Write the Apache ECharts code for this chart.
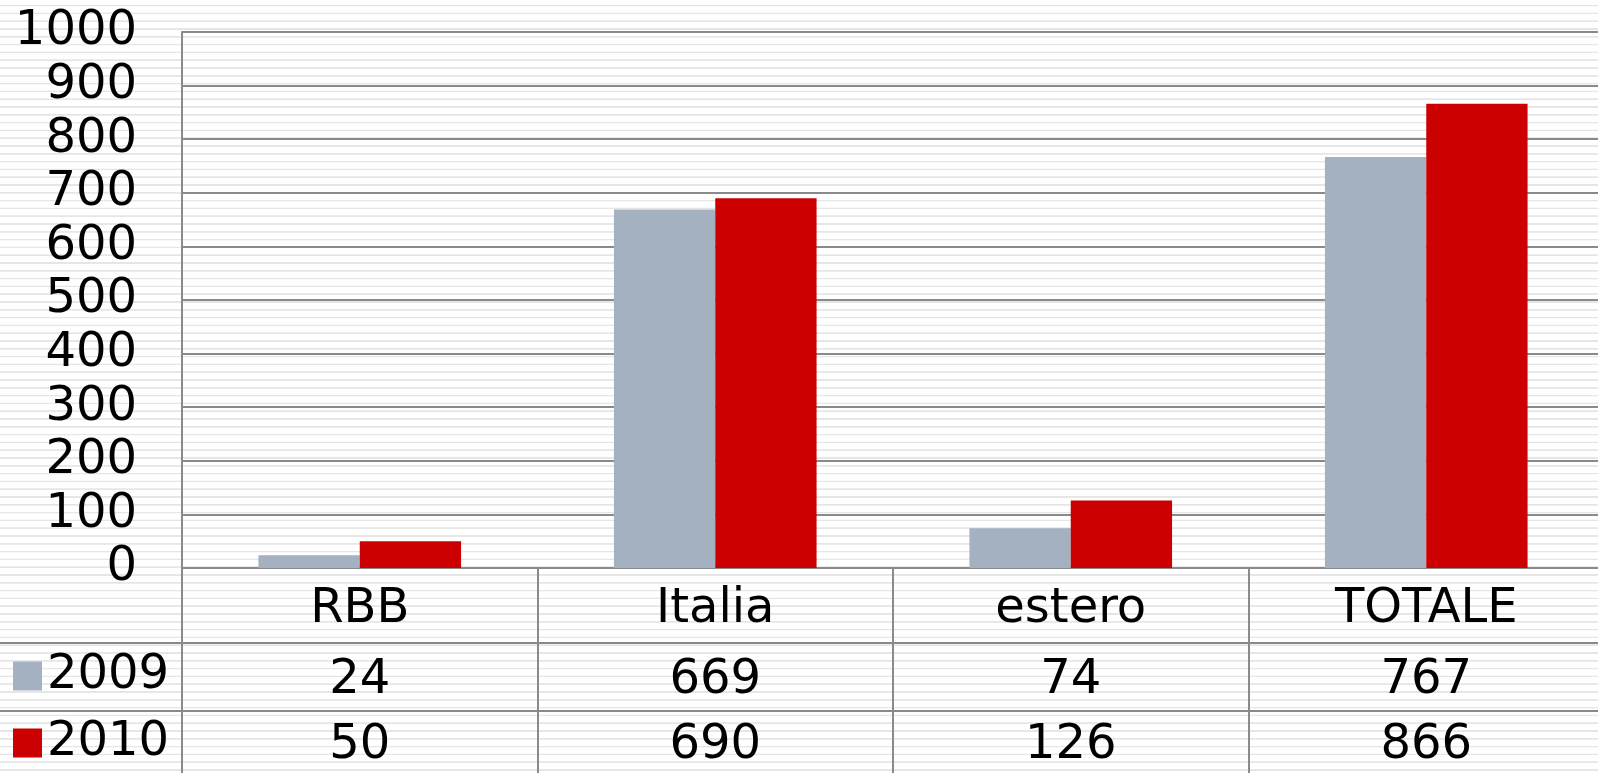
<!DOCTYPE html>
<html><head><meta charset="utf-8">
<script src="https://cdn.jsdelivr.net/npm/echarts@6/dist/echarts.min.js"></script>
<style>
html,body{margin:0;padding:0;background:#fff;}
#c{width:1598px;height:773px;background:repeating-linear-gradient(to bottom,#fff 0px,#fff 4.6px,#e6e6e6 5px,#e6e6e6 6.2px,#fff 6.6px,#fff 7.8px);}
</style></head><body><div id="c"></div>
<script>
const categories = ['RBB', 'Italia', 'estero', 'TOTALE'];
const seriesNames = ['2009', '2010'];
const values2009 = [24, 669, 74, 767];
const values2010 = [50, 690, 126, 866];
const yMin = 0, yMax = 1000, yInterval = 100;

const FONT = 'DejaVu Sans';
const LINE = '#8a8a8a';
const gridTop = 32, gridLeft = 182, W = 1598, H = 773;
const rowHeights = [75, 68, 62];
const tableH = rowHeights[0] + rowHeights[1] + rowHeights[2];
const plotBottom = H - tableH;

const chart = echarts.init(document.getElementById('c'), null, {renderer: 'canvas'});
chart.setOption({
  backgroundColor: 'transparent',
  animation: false,
  grid: {left: gridLeft, top: gridTop, width: 1422, bottom: tableH, containLabel: false, outerBoundsMode: 'none'},
  legend: {
    data: seriesNames, orient: 'vertical', left: 13, top: 652, padding: 0,
    itemWidth: 29, itemHeight: 29, itemGap: 19, icon: 'rect', selectedMode: false,
    textStyle: {fontSize: 48, fontFamily: FONT, color: '#000', lineHeight: 48}
  },
  xAxis: {
    type: 'category', data: categories,
    axisLine: {show: true, lineStyle: {color: LINE, width: 2}},
    axisTick: {show: true, length: tableH, alignWithLabel: false, lineStyle: {color: LINE, width: 2}},
    splitLine: {show: false},
    axisLabel: {
      interval: 0, margin: 4, color: '#000', fontFamily: FONT, fontSize: 48,
      formatter: function (v, i) {
        return '{a|' + v + '}\n{b|' + values2009[i] + '}\n{c|' + values2010[i] + '}';
      },
      rich: {
        a: {fontSize: 48, fontFamily: FONT, color: '#000', lineHeight: rowHeights[0]},
        b: {fontSize: 48, fontFamily: FONT, color: '#000', lineHeight: rowHeights[1]},
        c: {fontSize: 48, fontFamily: FONT, color: '#000', lineHeight: rowHeights[2]}
      }
    }
  },
  yAxis: {
    type: 'value', min: yMin, max: yMax, interval: yInterval,
    axisLine: {show: true, lineStyle: {color: LINE, width: 2}},
    axisTick: {show: false},
    splitLine: {show: true, lineStyle: {color: LINE, width: 2}},
    axisLabel: {fontSize: 48, fontFamily: FONT, color: '#000', margin: 45, verticalAlign: 'middle',
      formatter: function (v) { return String(v); }}
  },
  series: [
    {name: seriesNames[0], type: 'bar', data: values2009, barGap: '0%', barCategoryGap: '43%',
     itemStyle: {color: '#a3b1c1'}},
    {name: seriesNames[1], type: 'bar', data: values2010, barGap: '0%', barCategoryGap: '43%',
     itemStyle: {color: '#cc0000'}}
  ],
  graphic: [
    {type: 'line', z: 10, shape: {x1: 0, y1: plotBottom + rowHeights[0], x2: W, y2: plotBottom + rowHeights[0]},
     style: {stroke: LINE, lineWidth: 2}},
    {type: 'line', z: 10, shape: {x1: 0, y1: plotBottom + rowHeights[0] + rowHeights[1], x2: W, y2: plotBottom + rowHeights[0] + rowHeights[1]},
     style: {stroke: LINE, lineWidth: 2}}
  ]
});
</script></body></html>
